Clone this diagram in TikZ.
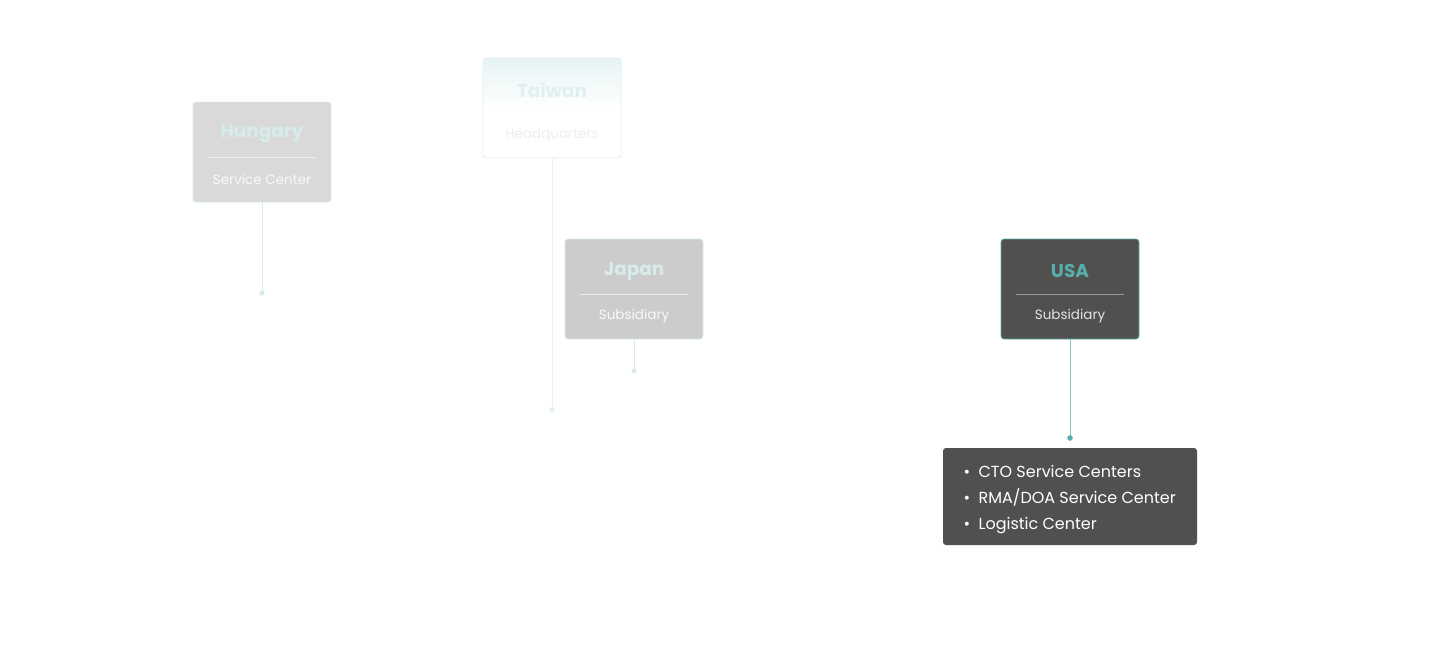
\documentclass[tikz,border=0pt]{standalone}
\usepackage{fontspec}
\setmainfont{Poppins}
\usetikzlibrary{positioning,calc}
\definecolor{tealmain}{HTML}{56AFAB}
\definecolor{teallink}{HTML}{82C8C6}
\definecolor{tealpale}{HTML}{D6ECEB}
\definecolor{darkbox}{HTML}{52504E}
\tikzset{
  site/.style={draw=tealpale, line width=0.8pt, rounded corners=3pt,
    minimum width=138pt, minimum height=100pt, inner sep=0pt},
  title/.style={font=\fontsize{18.5}{20}\selectfont\bfseries},
  sub/.style={font=\fontsize{13.5}{15}\selectfont},
  link/.style={draw=tealpale, line width=1pt},
  dot/.style={fill=tealpale, draw=none},
}
\begin{document}
\begin{tikzpicture}[x=1pt,y=-1pt]
  \useasboundingbox (0,0) rectangle (1440,649);
  % Hungary
  \node[site, fill=black!15] (hu) at (262,152) {};
  \node[title, text=tealpale] (hut) at (262,134) {Hungary};
  \draw[white!85!gray, line width=0.6pt] (208,157) -- (316,157);
  \node[sub, text=white!95!gray] (hus) at (262,179) {Service Center};
  \coordinate (hud) at (262,293);
  \draw[link] (hu.south) -- (hud);
  \fill[dot] (hud) circle (2.6pt);
  % Taiwan
  \shade[top color=tealpale!60, bottom color=white, rounded corners=3pt]
    (483,58) rectangle (621,108);
  \node[site, draw=tealpale!80] (tw) at (552,108) {};
  \node[title, text=tealpale!80] (twt) at (552,90) {Taiwan};
  \node[sub, text=black!7] (tws) at (552,135) {Headquarters};
  \coordinate (twd) at (552,410);
  \draw[link, draw=tealpale!70] (tw.south) -- (twd);
  \fill[dot, fill=tealpale!70] (twd) circle (2.6pt);
  % Japan
  \node[site, fill=black!20] (jp) at (634,289) {};
  \node[title, text=tealpale] (jpt) at (634,271) {Japan};
  \draw[white!85!gray, line width=0.6pt] (580,294) -- (688,294);
  \node[sub, text=white!95!gray] (jps) at (634,316) {Subsidiary};
  \coordinate (jpd) at (634,371);
  \draw[link] (jp.south) -- (jpd);
  \fill[dot] (jpd) circle (2.6pt);
  % USA
  \node[site, fill=darkbox, draw=tealmain] (us) at (1070,289) {};
  \node[title, text=tealmain] (ust) at (1070,271) {USA};
  \draw[black!40, line width=0.6pt] (1016,294) -- (1124,294);
  \node[sub, text=white!80!gray] (uss) at (1070,316) {Subsidiary};
  \coordinate (usd) at (1070,438);
  \draw[link, draw=teallink] (us.south) -- (usd);
  \fill[dot, fill=tealmain] (usd) circle (2.8pt);
  \node[fill=darkbox, rounded corners=3pt, minimum width=254pt, minimum height=97pt,
    inner sep=0pt] (uslist) at (1070,496.5) {};
  \node[anchor=west, text=white, font=\fontsize{16}{26}\selectfont, align=left]
    (usitems) at (960,500) {\textbullet\hspace{8.5pt}CTO Service Centers\\
    \textbullet\hspace{8.5pt}RMA/DOA Service Center\\
    \textbullet\hspace{8.5pt}Logistic Center};
\end{tikzpicture}
\end{document}
